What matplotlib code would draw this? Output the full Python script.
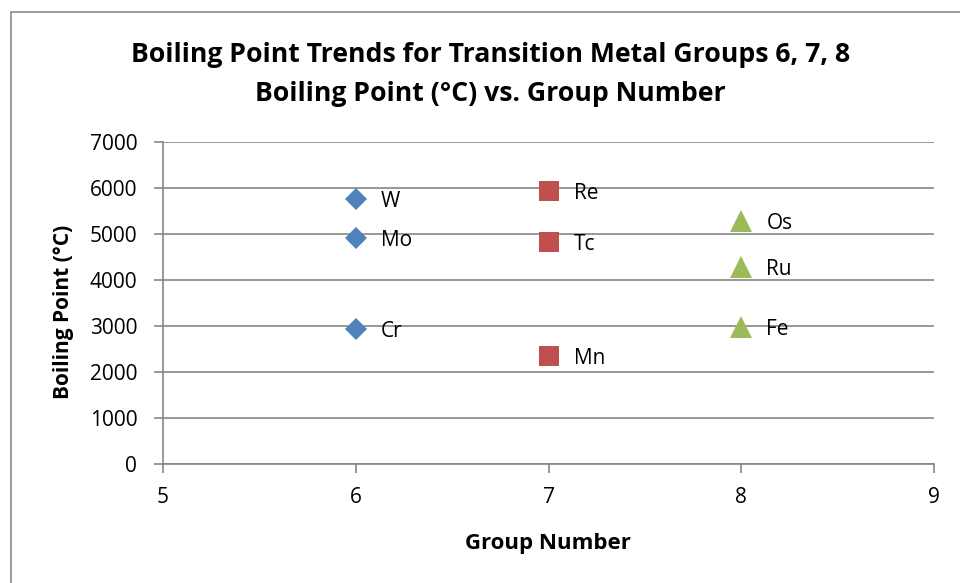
import matplotlib
matplotlib.use('Agg')
import matplotlib.pyplot as plt
from matplotlib.patches import Rectangle

plt.rcParams['font.family'] = ['Open Sans', 'DejaVu Sans']

# group 6, 7, 8 boiling points
group6_x = [6, 6, 6]
group6_y = [5760, 4910, 2940]
group6_names = ['W', 'Mo', 'Cr']

group7_x = [7, 7, 7]
group7_y = [5930, 4830, 2350]
group7_names = ['Re', 'Tc', 'Mn']

group8_x = [8, 8, 8]
group8_y = [5290, 4280, 2980]
group8_names = ['Os', 'Ru', 'Fe']

x_ticks = [5, 6, 7, 8, 9]
y_ticks = [0, 1000, 2000, 3000, 4000, 5000, 6000, 7000]

W, H = 960, 583
fig = plt.figure(figsize=(W / 100, H / 100), dpi=100)
ax = fig.add_axes([163 / W, 1 - 464 / H, (934 - 163) / W, (464 - 142) / H])

# outer chart frame (cut off at right and bottom)
fig.patches.append(Rectangle((11 / W, -0.1), 1.2, 1.1 - 12 / H,
                             transform=fig.transFigure, fill=False,
                             edgecolor='#8a8a8a', lw=1.2))

series = [
    (group6_x, group6_y, group6_names, 'D', '#4F81BD', 11.0),
    (group7_x, group7_y, group7_names, 's', '#C0504D', 14.0),
    (group8_x, group8_y, group8_names, '^', '#9BBB59', 15.5),
]
for xs, ys, names, mk, col, ms in series:
    ax.plot(xs, ys, linestyle='none', marker=mk, color=col, markersize=ms,
            markeredgewidth=0, zorder=3)
    for x, y, n in zip(xs, ys, names):
        ax.annotate(n, (x, y), xytext=(18, -2), textcoords='offset points',
                    ha='left', va='center', fontsize=15, color='black')

ax.set_xlim(5, 9)
ax.set_ylim(0, 7000)
ax.set_xticks(x_ticks)
ax.set_yticks(y_ticks)
ax.tick_params(axis='both', labelsize=15, colors='#868686', labelcolor='black',
               length=6.5, width=1.2)
ax.tick_params(axis='x', pad=10)
ax.tick_params(axis='y', pad=12)
ax.grid(axis='y', color='#868686', lw=1.2)
ax.set_axisbelow(True)
for s in ['top', 'right']:
    ax.spines[s].set_visible(False)
for s in ['left', 'bottom']:
    ax.spines[s].set_color('#868686')
    ax.spines[s].set_linewidth(1.2)

fig.text(548 / W, 1 - 543 / H, 'Group Number', ha='center', va='center',
         fontsize=16, fontweight='bold')
fig.text(63 / W, 1 - 312 / H, 'Boiling Point (°C)', ha='center', va='center',
         rotation=90, fontsize=15, fontweight='bold')

fig.text(491 / W, 1 - 62 / H, 'Boiling Point Trends for Transition Metal Groups 6, 7, 8',
         ha='center', va='baseline', fontsize=19.2, fontweight='bold')
fig.text(490 / W, 1 - 101 / H, 'Boiling Point (°C) vs. Group Number',
         ha='center', va='baseline', fontsize=19.2, fontweight='bold')

fig.savefig('out.png', dpi=100)
